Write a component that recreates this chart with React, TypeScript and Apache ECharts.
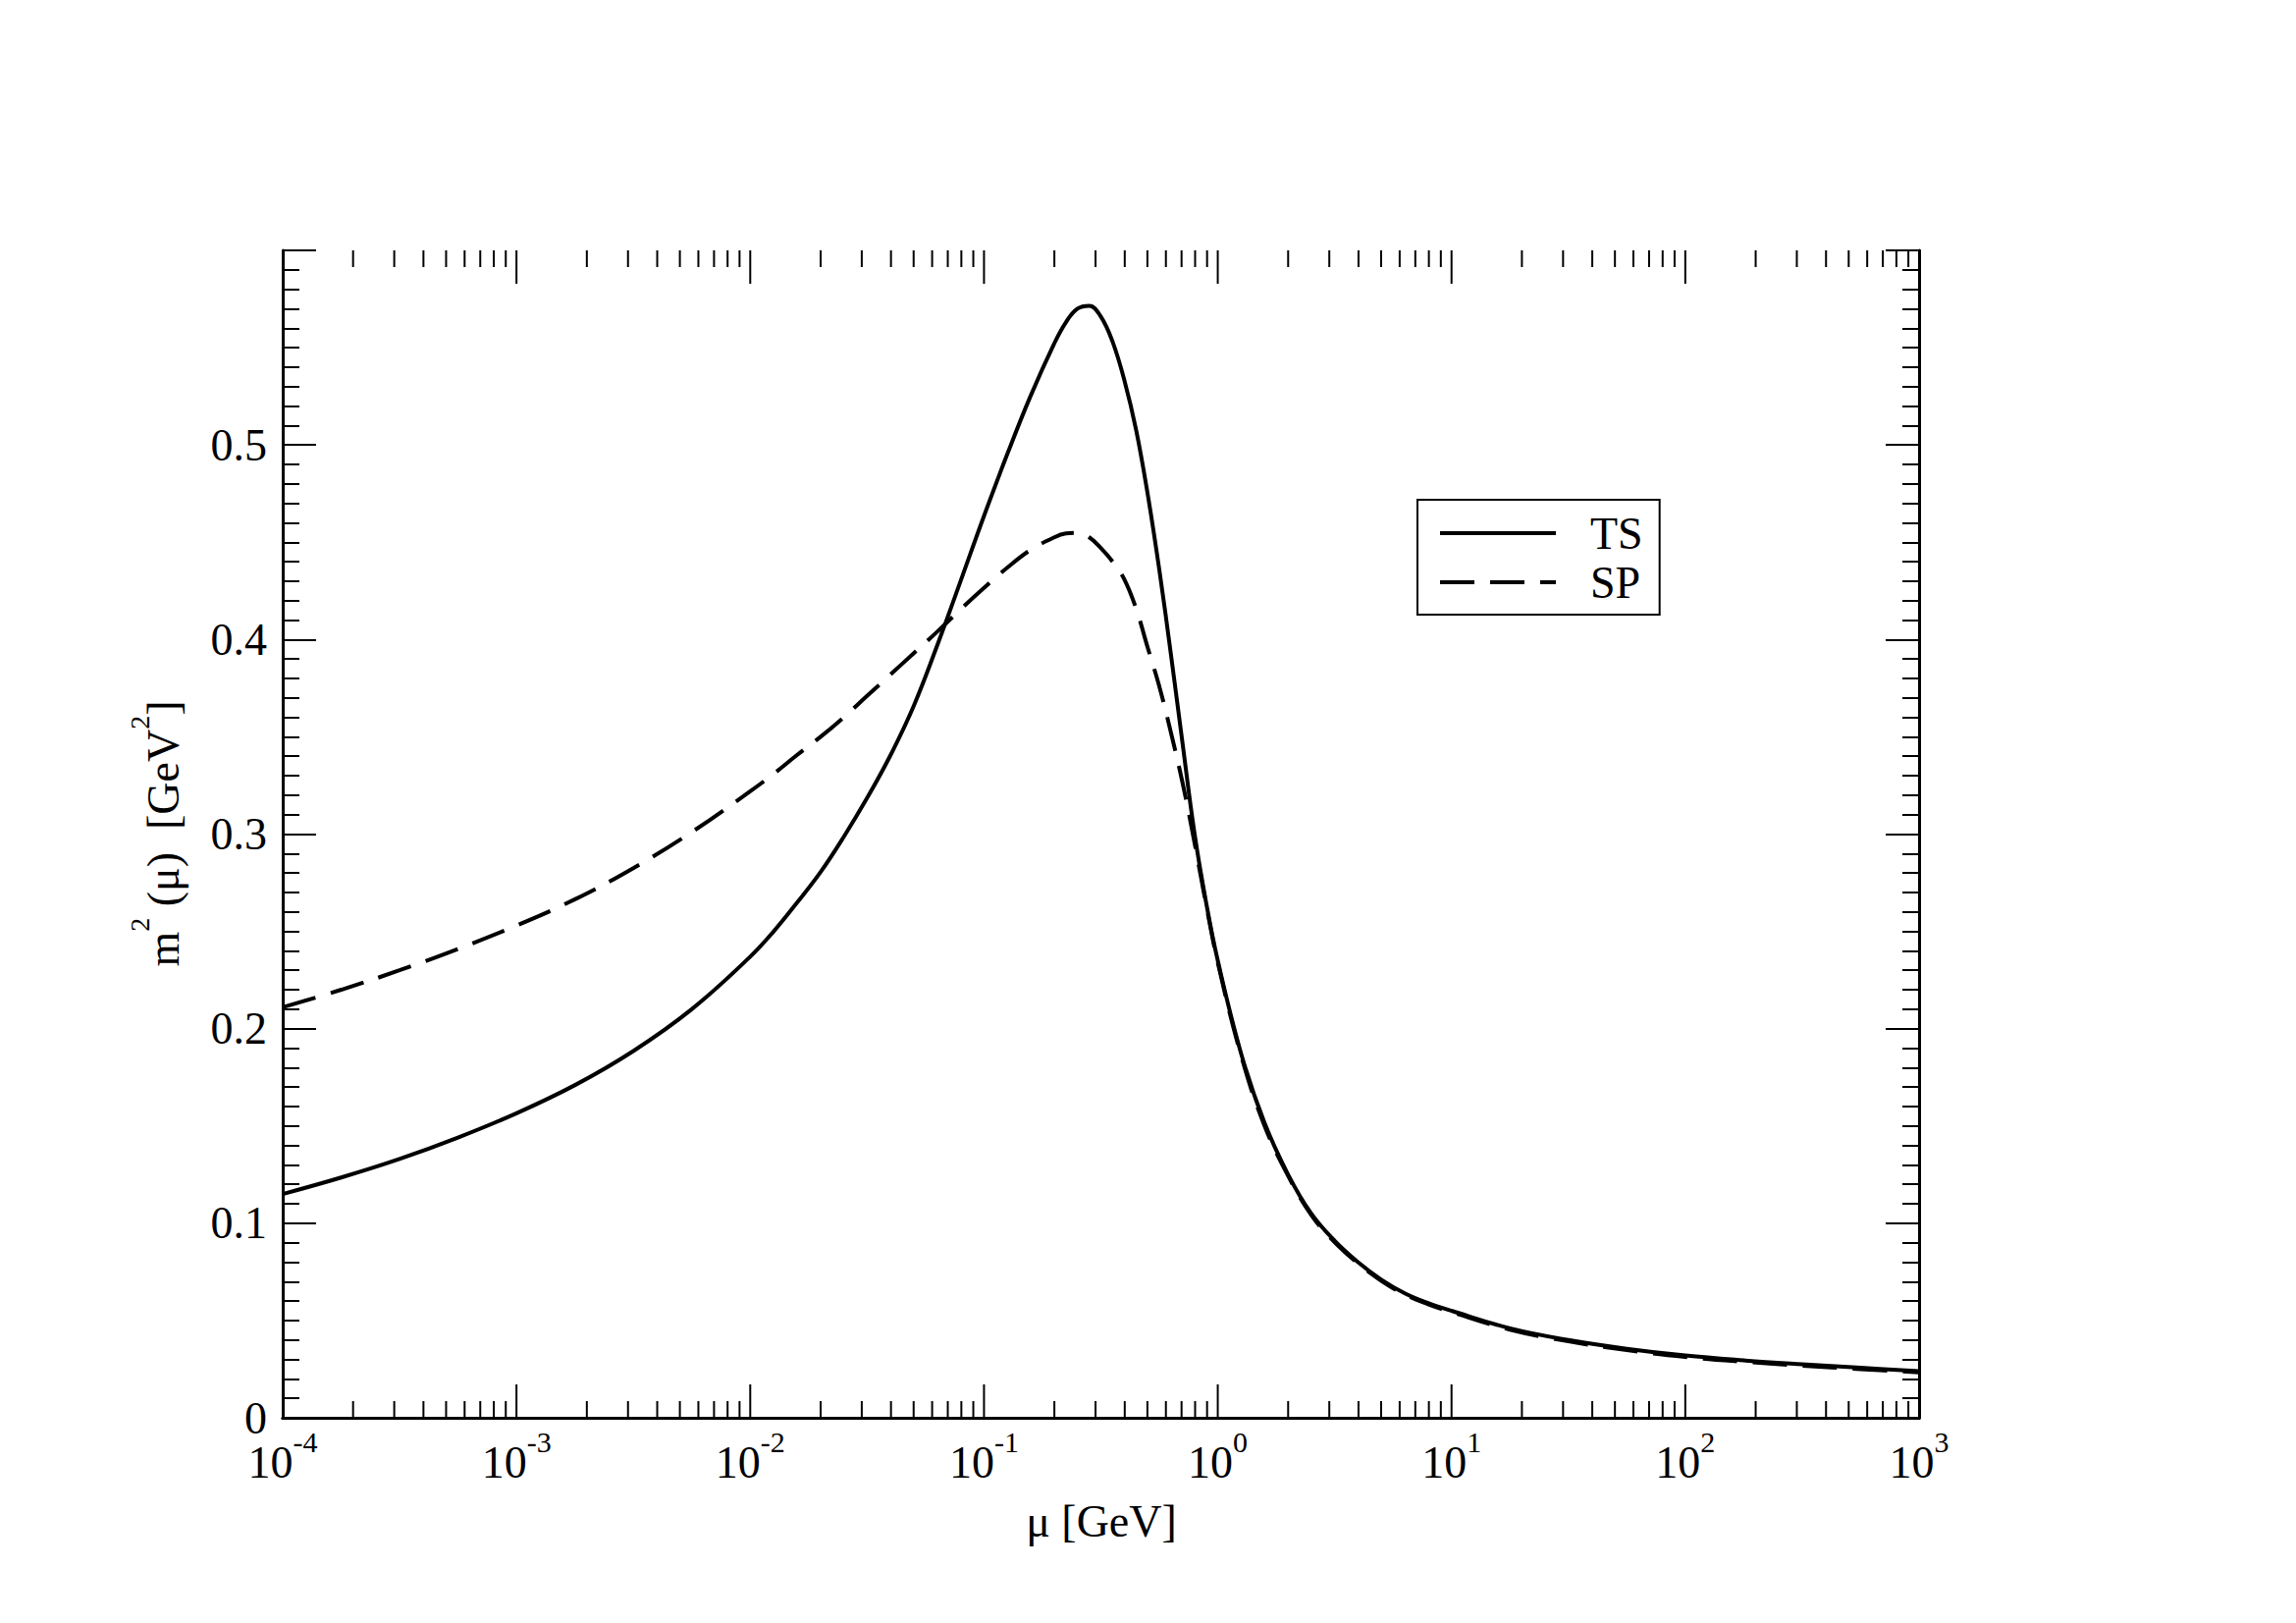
import React, { useEffect, useRef } from "react";
import * as echarts from "echarts";

// mu [GeV] sample points
const MU = [
  0.0001, 0.000178, 0.000316, 0.000562, 0.001, 0.00178, 0.00316, 0.00562,
  0.01, 0.0126, 0.0158, 0.02, 0.0251, 0.0316, 0.0398, 0.0501, 0.0631, 0.0794,
  0.1, 0.126, 0.158, 0.1995, 0.224, 0.251, 0.282, 0.316, 0.355, 0.398, 0.447,
  0.501, 0.562, 0.631, 0.708, 0.794, 0.891, 1, 1.26, 1.58, 2.0, 2.51, 3.16,
  3.98, 5.01, 6.31, 7.94, 10, 17.8, 31.6, 56.2, 100, 178, 316, 562, 1000,
];

const TS = [
  0.115, 0.1235, 0.133, 0.144, 0.1565, 0.171, 0.1885, 0.21, 0.237, 0.25,
  0.2645, 0.2805, 0.2985, 0.3185, 0.3405, 0.366, 0.397, 0.43, 0.4635, 0.4955,
  0.525, 0.552, 0.563, 0.57, 0.5715, 0.566, 0.553, 0.5335, 0.508, 0.475,
  0.436, 0.392, 0.346, 0.301, 0.265, 0.235, 0.187, 0.152, 0.125, 0.105,
  0.091, 0.08, 0.071, 0.064, 0.059, 0.055, 0.046, 0.04, 0.0355, 0.032,
  0.0295, 0.0275, 0.0257, 0.024,
];

const SP = [
  0.211, 0.22, 0.23, 0.241, 0.253, 0.2665, 0.2825, 0.301, 0.322, 0.331,
  0.3405, 0.35, 0.36, 0.371, 0.382, 0.393, 0.404, 0.4155, 0.4265, 0.437,
  0.446, 0.4525, 0.4545, 0.4548, 0.4525, 0.447, 0.44, 0.431, 0.416, 0.396,
  0.376, 0.352, 0.326, 0.296, 0.264, 0.234, 0.186, 0.1505, 0.1243, 0.1043,
  0.0903, 0.0793, 0.0704, 0.0634, 0.0584, 0.0543, 0.0453, 0.0393, 0.0348,
  0.0313, 0.0288, 0.0268, 0.025, 0.0234,
];

const SERIES_NAMES = ["TS", "SP"];
const DECADES = [1e-4, 1e-3, 1e-2, 1e-1, 1, 10, 100];
const MAJOR_MU = [1e-4, 1e-3, 1e-2, 1e-1, 1, 10, 100, 1000];
const MULTIPLIERS = [2, 3, 4, 5, 6, 7, 8, 9];
const Y_TICK_LABELS = ["0", "0.1", "0.2", "0.3", "0.4", "0.5", ""];

const FONT = "'Liberation Serif', 'Times New Roman', serif";

export default function App() {
  const ref = useRef<HTMLDivElement>(null);

  useEffect(() => {
    if (!ref.current) return;
    const chart = echarts.init(ref.current, undefined, { renderer: "svg" });

    const tickMarks: number[][] = [];
    DECADES.forEach((d) => MULTIPLIERS.forEach((k) => tickMarks.push([k * d, 0, 17])));
    MAJOR_MU.forEach((m) => tickMarks.push([m, 0, 34]));

    const tsData = MU.map((m, i) => [m, TS[i]]);
    const spData = MU.map((m, i) => [m, SP[i]]);

    const axisLine = { show: true, lineStyle: { color: "#000", width: 3 } };
    const majorTick = { show: true, inside: true, length: 34, lineStyle: { color: "#000", width: 2 } };

    const option: any = {
      animation: false,
      backgroundColor: "#fff",
      textStyle: { fontFamily: FONT, color: "#000" },
      grid: { left: 288, top: 255, right: 384, bottom: 209, containLabel: false, outerBoundsMode: "none" },
      legend: {
        data: SERIES_NAMES,
        orient: "vertical",
        left: 1444,
        top: 509,
        itemWidth: 118,
        itemHeight: 46,
        itemGap: 4,
        padding: [11, 17, 10, 21],
        borderColor: "#000",
        borderWidth: 2,
        backgroundColor: "#fff",
        selectedMode: false,
        itemStyle: { opacity: 0, borderWidth: 0 },
        lineStyle: { width: 4, color: "#000" },
        textStyle: { fontFamily: FONT, fontSize: 46, color: "#000", lineHeight: 46, padding: [0, 0, 0, 30] },
      },
      xAxis: [
        {
          type: "log",
          logBase: 10,
          min: 1e-4,
          max: 1e3,
          splitNumber: 7,
          position: "bottom",
          axisLine,
          axisTick: { show: false },
          splitLine: { show: false },
          axisLabel: {
            show: true,
            margin: 22,
            showMinLabel: true,
            showMaxLabel: true,
            formatter: (v: number) => {
              const e = Math.round(Math.log10(v));
              return `{b|10}{s|${e}}`;
            },
            rich: {
              b: { fontFamily: FONT, fontSize: 46, color: "#000", lineHeight: 46 },
              s: { fontFamily: FONT, fontSize: 30, color: "#000", lineHeight: 30, padding: [0, 0, 42, 0] },
            },
          },
        },
        {
          type: "log",
          logBase: 10,
          min: 1e-4,
          max: 1e3,
          splitNumber: 7,
          position: "top",
          axisLine,
          axisTick: { show: false },
          splitLine: { show: false },
          axisLabel: { show: false },
        },
      ],
      yAxis: [
        {
          type: "value",
          min: 0,
          max: 0.6,
          interval: 0.1,
          position: "left",
          axisLine,
          axisTick: majorTick,
          minorTick: { show: true, splitNumber: 10, length: 17, lineStyle: { color: "#000", width: 2 } },
          splitLine: { show: false },
          minorSplitLine: { show: false },
          axisLabel: {
            show: true,
            margin: 16,
            fontFamily: FONT,
            fontSize: 46,
            lineHeight: 28,
            color: "#000",
            formatter: (v: number) => Y_TICK_LABELS[Math.round(v * 10)] ?? "",
          },
        },
        {
          type: "value",
          min: 0,
          max: 0.6,
          interval: 0.1,
          position: "right",
          axisLine,
          axisTick: majorTick,
          minorTick: { show: true, splitNumber: 10, length: 17, lineStyle: { color: "#000", width: 2 } },
          splitLine: { show: false },
          axisLabel: { show: false },
        },
      ],
      series: [
        {
          name: "TS",
          type: "line",
          data: tsData,
          xAxisIndex: 0,
          yAxisIndex: 0,
          symbol: "none",
          showSymbol: false,
          smooth: 0.4,
          z: 5,
          itemStyle: { color: "#000" },
          lineStyle: { color: "#000", width: 4, type: "solid" },
        },
        {
          name: "SP",
          type: "line",
          data: spData,
          xAxisIndex: 0,
          yAxisIndex: 0,
          symbol: "none",
          showSymbol: false,
          smooth: 0.4,
          z: 4,
          itemStyle: { color: "#000" },
          lineStyle: { color: "#000", width: 4, type: [35, 16] },
        },
        {
          name: "xTicks",
          type: "custom",
          xAxisIndex: 0,
          yAxisIndex: 0,
          silent: true,
          clip: false,
          z: 3,
          data: tickMarks,
          renderItem: (params: any, api: any) => {
            const x = api.coord([api.value(0), 0])[0];
            const len = api.value(2);
            const cs = params.coordSys;
            const top = cs.y;
            const bot = cs.y + cs.height;
            return {
              type: "group",
              children: [
                { type: "line", shape: { x1: x, y1: bot, x2: x, y2: bot - len }, style: { stroke: "#000", lineWidth: 2 } },
                { type: "line", shape: { x1: x, y1: top, x2: x, y2: top + len }, style: { stroke: "#000", lineWidth: 2 } },
              ],
            };
          },
        },
      ],
      graphic: [
        {
          type: "text",
          x: 166,
          y: 849,
          rotation: Math.PI / 2,
          silent: true,
          style: {
            text: "m{s|2} (μ)  [GeV{s|2}]",
            fontFamily: FONT,
            fontSize: 46,
            fill: "#000",
            align: "center",
            verticalAlign: "middle",
            rich: {
              s: { fontFamily: FONT, fontSize: 28, fill: "#000", lineHeight: 28, padding: [0, 0, 48, 0] },
            },
          },
        },
        {
          type: "text",
          x: 1122,
          y: 1549,
          silent: true,
          style: {
            text: "μ [GeV]",
            fontFamily: FONT,
            fontSize: 46,
            fill: "#000",
            align: "center",
            verticalAlign: "middle",
          },
        },
      ],
    };

    chart.setOption(option);
    return () => chart.dispose();
  }, []);

  return (
    <div
      ref={ref}
      style={{ position: "absolute", left: 0, top: 0, width: 2339, height: 1653, background: "#fff" }}
    />
  );
}
